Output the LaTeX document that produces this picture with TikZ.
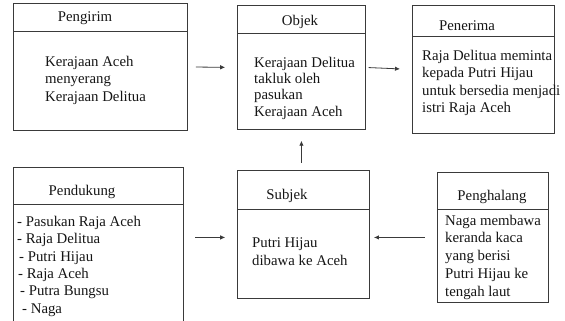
\documentclass[tikz,border=0pt]{standalone}
\usepackage{fontspec}
\setmainfont{Liberation Serif}
\usetikzlibrary{arrows.meta,calc,positioning}
\definecolor{edge}{HTML}{3A3A3A}
\definecolor{ink}{HTML}{151515}
\begin{document}
\begin{tikzpicture}[x=1pt,y=-1pt,
  panel/.style={draw=edge,line width=0.9pt,anchor=north west,inner sep=0pt,
    minimum width=#1},
  ghost/.style={anchor=north west,inner sep=0pt,minimum width=#1},
  title/.style={anchor=mid,inner sep=0pt,text=ink,font=\fontsize{14.8}{17}\selectfont},
  body/.style={anchor=north west,inner sep=0pt,align=left,text=ink,
    font=\fontsize{14.8}{#1}\selectfont},
  rule/.style={draw=edge,line width=0.9pt},
  arr/.style={draw=edge,line width=0.8pt,-{Latex[length=5pt,width=4.5pt]}}]
\useasboundingbox (0,0) rectangle (565,321);

% ---- boxes ----
\node[panel=174pt,minimum height=127pt] (pengirim) at (13,3) {};
\node[panel=128pt,minimum height=124pt] (objek) at (237,5) {};
\node[panel=142pt,minimum height=128pt] (penerima) at (412,5) {};
\node[ghost=170pt,minimum height=160pt] (pendukung) at (13,167) {};
\node[panel=132pt,minimum height=128pt] (subjek) at (237,170) {};
\node[panel=111pt,minimum height=130pt] (penghalang) at (437,172) {};

% open-bottomed frame of the supporting box
\draw[rule] (pendukung.south west) -- (pendukung.north west)
  -- (pendukung.north east) -- (pendukung.south east);

% ---- header dividers ----
\draw[rule] (pengirim.west |- 0,31) -- (pengirim.east |- 0,31);
\draw[rule] (objek.west |- 0,33) -- (objek.east |- 0,33);
\draw[rule] (penerima.west |- 0,36) -- (penerima.east |- 0,36);
\draw[rule] (pendukung.west |- 0,204) -- (pendukung.east |- 0,204);
\draw[rule] (subjek.west |- 0,209) -- (subjek.east |- 0,209);
\draw[rule] (penghalang.west |- 0,209) -- (penghalang.east |- 0,209);

% ---- titles ----
\node[title] (t1) at (85,19) {Pengirim};
\node[title] (t2) at (300,23) {Objek};
\node[title] (t3) at (467,28) {Penerima};
\node[title] (t4) at (82,193) {Pendukung};
\node[title] (t5) at (287,197) {Subjek};
\node[title] (t6) at (492,198) {Penghalang};

% ---- contents ----
\node[body=17.5] (b1) at (45,55.8) {Kerajaan Aceh\\menyerang\\Kerajaan Delitua};
\node[body=16.2] (b2) at (254,57) {Kerajaan Delitua\\takluk oleh\\pasukan\\Kerajaan Aceh};
\node[body=17.5] (b3) at (422,50) {Raja Delitua meminta\\kepada Putri Hijau\\untuk bersedia menjadi\\istri Raja Aceh};
\node[body=17.4] (b4) at (17,215.8) {- Pasukan Raja Aceh\\- Raja Delitua\\\hspace{2pt}- Putri Hijau\\\hspace{1pt}- Raja Aceh\\\hspace{3pt}- Putra Bungsu\\\hspace{5pt}- Naga};
\node[body=18] (b5) at (252,237.5) {Putri Hijau\\dibawa ke Aceh};
\node[body=17.7] (b6) at (445,214.8) {Naga membawa\\keranda kaca\\yang berisi\\Putri Hijau ke\\tengah laut};

% ---- connectors ----
\draw[arr] ($(pengirim.east)!0.16!(objek.west)$) -- ($(pengirim.east)!0.76!(objek.west)$);
\draw[arr] ($(objek.east)!0.06!(penerima.west)$) -- ($(objek.east)!0.74!(penerima.west)$);
\coordinate (pdk) at (pendukung.east |- subjek.west);
\draw[arr] ($(pdk)!0.22!(subjek.west) + (0,3)$) -- ($(pdk)!0.78!(subjek.west) + (0,3)$);
\coordinate (sbj) at (subjek.east |- penghalang.west);
\draw[arr] ($(penghalang.west)!0.18!(sbj)$) -- ($(penghalang.west)!0.94!(sbj)$);
\coordinate (upfoot) at ($(objek.south)!0.82!(subjek.north)$);
\coordinate (uptip) at ($(objek.south)!0.27!(subjek.north)$);
\draw[arr] (objek.south |- upfoot) -- (objek.south |- uptip);
\end{tikzpicture}
\end{document}
